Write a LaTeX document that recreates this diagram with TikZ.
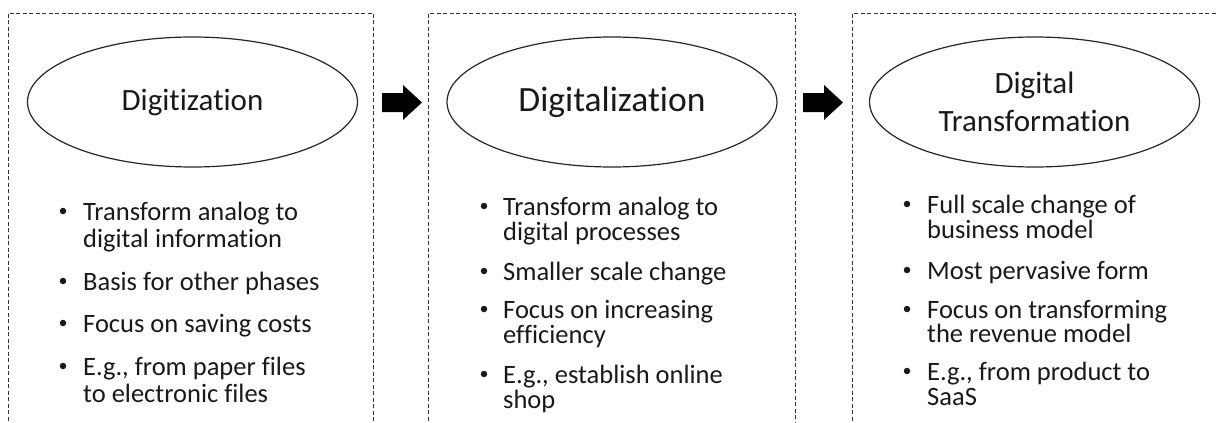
\documentclass[tikz,border=0pt]{standalone}
\usepackage{fontspec}
\setmainfont{Carlito}[Ligatures=NoCommon]
\usetikzlibrary{shapes.geometric}
\begin{document}
\begin{tikzpicture}[x=1pt,y=-1pt,
  frame/.style={draw=black!80, line width=0.9pt, dash pattern=on 4pt off 2.5pt},
  phase/.style={draw=black!85, line width=1.2pt, ellipse, minimum width=330pt,
    minimum height=130pt, inner sep=0pt, align=center, text=black!90},
  phasefont/.style={font=\fontsize{31}{38}\selectfont},
  bigphasefont/.style={font=\fontsize{35.5}{42}\selectfont},
  itemtext/.style={anchor=base west, inner sep=0pt, text=black!90,
    font=\fontsize{26.5}{27}\selectfont},
  bulletmark/.style={circle, fill=black!90, inner sep=0pt, minimum size=6.5pt},
  blockarrow/.style={fill=black}
]
\useasboundingbox (0,0) rectangle (1216,423);

% dashed frames, open at the bottom
\draw[frame] (8,440) -- (8,13) -- (373,13) -- (373,440);
\draw[frame] (428,440) -- (428,13) -- (795,13) -- (795,440);
\draw[frame] (852,440) -- (852,13) -- (1230,13);

% phase ellipses
\node[phase, phasefont]    (p1) at (192.5,102) {Digitization};
\node[phase, bigphasefont] (p2) at (612,102)   {Digitalization};
\node[phase, phasefont]    (p3) at (1034.5,102) {Digital\\Transformation};

% block arrows between the frames
\coordinate (a1) at (382,102.5);
\coordinate (a2) at (803,102.5);
\foreach \s in {a1,a2}{
  \fill[blockarrow] (\s) ++(0,-9.5) -- ++(21,0) -- ++(0,-8) -- ++(19,17.5)
    -- ++(-19,17.5) -- ++(0,-8) -- ++(-21,0) -- cycle;
}

% bullet lists: bullet dots sit 9pt above each item's first baseline
\foreach \n/\y in {1/220,2/290,3/332,4/375}
  \node[bulletmark] (b1\n) at (63,\y-9) {};
\foreach \n/\y/\t in {1/220/Transform analog to, 2/247/digital information,
    3/290/Basis for other phases, 4/332/Focus on saving costs,
    5/375/{E.g., from paper files}, 6/402/to electronic files}
  \node[itemtext] (t1\n) at (83,\y) {\t};

\foreach \n/\y in {1/215,2/280,3/318,4/383}
  \node[bulletmark] (b2\n) at (484,\y-9) {};
\foreach \n/\y/\t in {1/215/Transform analog to, 2/240/digital processes,
    3/280/Smaller scale change, 4/318/Focus on increasing, 5/343/efficiency,
    6/383/{E.g., establish online}, 7/408/shop}
  \node[itemtext] (t2\n) at (503,\y) {\t};

\foreach \n/\y in {1/213,2/279,3/318,4/380}
  \node[bulletmark] (b3\n) at (907,\y-9) {};
\foreach \n/\y/\t in {1/213/Full scale change of, 2/238/business model,
    3/279/Most pervasive form, 4/318/Focus on transforming,
    5/342/the revenue model, 6/380/{E.g., from product to}, 7/405/SaaS}
  \node[itemtext] (t3\n) at (927,\y) {\t};
\end{tikzpicture}
\end{document}
